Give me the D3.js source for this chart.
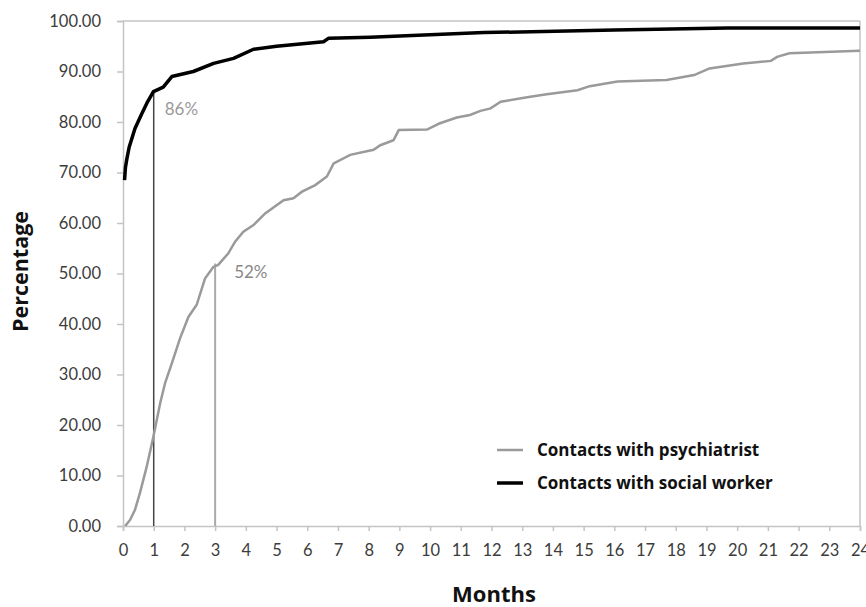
<!DOCTYPE html>
<html>
<head>
<meta charset="utf-8">
<script src="https://cdn.jsdelivr.net/npm/d3@7"></script>
<style>
  body { margin: 0; background: #fff; }
  svg text { font-family: Lato, "Open Sans", sans-serif; }
  svg text.bold { font-family: "Open Sans", Lato, sans-serif; font-weight: bold; }
</style>
</head>
<body>
<div id="plot"></div>
<script>
// data
var psychMonths = [0.07, 0.23, 0.39, 0.55, 0.77, 0.99, 1.21, 1.37, 1.59, 1.86, 2.13, 2.4, 2.67, 2.94, 3.1, 3.43, 3.65, 3.92, 4.25, 4.63, 5.23, 5.55, 5.83, 6.26, 6.64, 6.86, 7.4, 8.16, 8.38, 8.81, 8.98, 9.9, 10.3, 10.87, 11.3, 11.64, 11.97, 12.3, 13.16, 13.8, 14.8, 15.2, 16.1, 17.7, 18.6, 19.1, 20.2, 21.1, 21.3, 21.7, 24];
var psychPct = [0, 1.2, 3.2, 6.5, 11.7, 17.7, 24.3, 28.3, 32.2, 37.2, 41.4, 43.8, 49.0, 51.3, 51.7, 54.0, 56.3, 58.3, 59.6, 61.9, 64.5, 64.9, 66.2, 67.5, 69.2, 71.8, 73.5, 74.5, 75.4, 76.4, 78.4, 78.5, 79.7, 80.9, 81.4, 82.2, 82.7, 84.0, 84.9, 85.5, 86.3, 87.1, 88.0, 88.3, 89.3, 90.6, 91.6, 92.1, 92.9, 93.6, 94.1];

var socialMonths = [0.05, 0.08, 0.12, 0.2, 0.39, 0.6, 0.8, 0.99, 1.31, 1.59, 2.29, 2.95, 3.6, 4.25, 5.0, 6.53, 6.7, 8.05, 11.75, 16, 19.7, 24];
var socialPct = [68.5, 71, 72.5, 75, 78.7, 81.5, 84, 86, 86.9, 89.0, 90, 91.6, 92.6, 94.4, 95.0, 95.9, 96.6, 96.8, 97.7, 98.2, 98.6, 98.6];

var seriesNames = ["Contacts with psychiatrist", "Contacts with social worker"];
var markMonths = [1, 3];
var markPct = [86, 52];
var markLabels = ["86%", "52%"];

var yTicks = d3.range(0, 101, 10);
var xTicks = d3.range(0, 25, 1);

var width = 866;
var height = 607;
var margin = {left: 123, right: 6, top: 21, bottom: 81};

var svg = d3.select("div#plot")
  .append("svg")
  .attr("width", width)
  .attr("height", height);

var x = d3.scaleLinear()
  .domain([0, 24])
  .range([margin.left, width - margin.right]);

var y = d3.scaleLinear()
  .domain([0, 100])
  .range([height - margin.bottom, margin.top]);

var axisColor = "#c4c4c4";

// frame top and right
svg.append("line")
  .attr("x1", x(0)).attr("x2", x(24))
  .attr("y1", y(100)).attr("y2", y(100))
  .style("stroke", axisColor).style("stroke-width", 1.5);
svg.append("line")
  .attr("x1", x(24)).attr("x2", x(24))
  .attr("y1", y(100)).attr("y2", y(0))
  .style("stroke", axisColor).style("stroke-width", 1.5);

var yAxis = d3.axisLeft(y)
  .tickValues(yTicks)
  .tickFormat(d3.format(".2f"))
  .tickSize(6)
  .tickPadding(16);

var gy = svg.append("g")
  .attr("transform", "translate(" + x(0) + ",0)")
  .call(yAxis);

var xAxis = d3.axisBottom(x)
  .tickValues(xTicks)
  .tickFormat(d3.format("d"))
  .tickSize(5)
  .tickPadding(13);

var gx = svg.append("g")
  .attr("transform", "translate(0," + y(0) + ")")
  .call(xAxis);

[gx, gy].forEach(function(g){
  g.select(".domain").style("stroke", axisColor).style("stroke-width", 1.5);
  g.selectAll(".tick line").style("stroke", axisColor).style("stroke-width", 1.5);
  g.selectAll(".tick text")
    .style("fill", "#3c3c3c")
    .style("font-size", "16.5px");
});

// reference lines at 1 and 3 months
svg.append("line")
  .attr("x1", x(markMonths[0])).attr("x2", x(markMonths[0]))
  .attr("y1", y(markPct[0])).attr("y2", y(0))
  .style("stroke", "#444").style("stroke-width", 1.5);
svg.append("line")
  .attr("x1", x(markMonths[1])).attr("x2", x(markMonths[1]))
  .attr("y1", y(markPct[1])).attr("y2", y(0))
  .style("stroke", "#aaa").style("stroke-width", 2);

var line = d3.line()
  .x(function(d){ return x(d[0]); })
  .y(function(d){ return y(d[1]); });

svg.append("path")
  .datum(d3.zip(psychMonths, psychPct))
  .attr("d", line)
  .style("fill", "none")
  .style("stroke", "#9a9a9a")
  .style("stroke-width", 2.5);

svg.append("path")
  .datum(d3.zip(socialMonths, socialPct))
  .attr("d", line)
  .style("fill", "none")
  .style("stroke", "#000")
  .style("stroke-width", 3.5)
  .style("stroke-linejoin", "round");

// annotations
svg.append("text")
  .attr("x", x(markMonths[0]) + 11)
  .attr("y", y(markPct[0]) + 23)
  .style("fill", "#9a9a9a")
  .style("font-size", "17px")
  .text(markLabels[0]);
svg.append("text")
  .attr("x", x(markMonths[1]) + 19)
  .attr("y", y(markPct[1]) + 15)
  .style("fill", "#888")
  .style("font-size", "17px")
  .text(markLabels[1]);

// legend
var legend = svg.append("g").attr("transform", "translate(497,450)");
var legColors = ["#9a9a9a", "#000"];
var legWidths = [2.5, 3.5];
seriesNames.forEach(function(name, i){
  var row = legend.append("g").attr("transform", "translate(0," + (i * 33) + ")");
  row.append("line")
    .attr("x1", 0).attr("x2", 26)
    .style("stroke", legColors[i])
    .style("stroke-width", legWidths[i]);
  row.append("text")
    .attr("class", "bold")
    .attr("x", 40)
    .attr("dy", "0.35em")
    .style("font-size", "17px")
    .style("fill", "#111")
    .text(name);
});

// axis titles
svg.append("text")
  .attr("class", "bold")
  .attr("transform", "translate(28," + (y(50) - 2) + ") rotate(-90)")
  .attr("text-anchor", "middle")
  .style("font-size", "21.5px")
  .style("fill", "#111")
  .text("Percentage");

svg.append("text")
  .attr("class", "bold")
  .attr("x", 494)
  .attr("y", 602)
  .attr("text-anchor", "middle")
  .style("font-size", "22px")
  .style("fill", "#111")
  .text("Months");
</script>
</body>
</html>
